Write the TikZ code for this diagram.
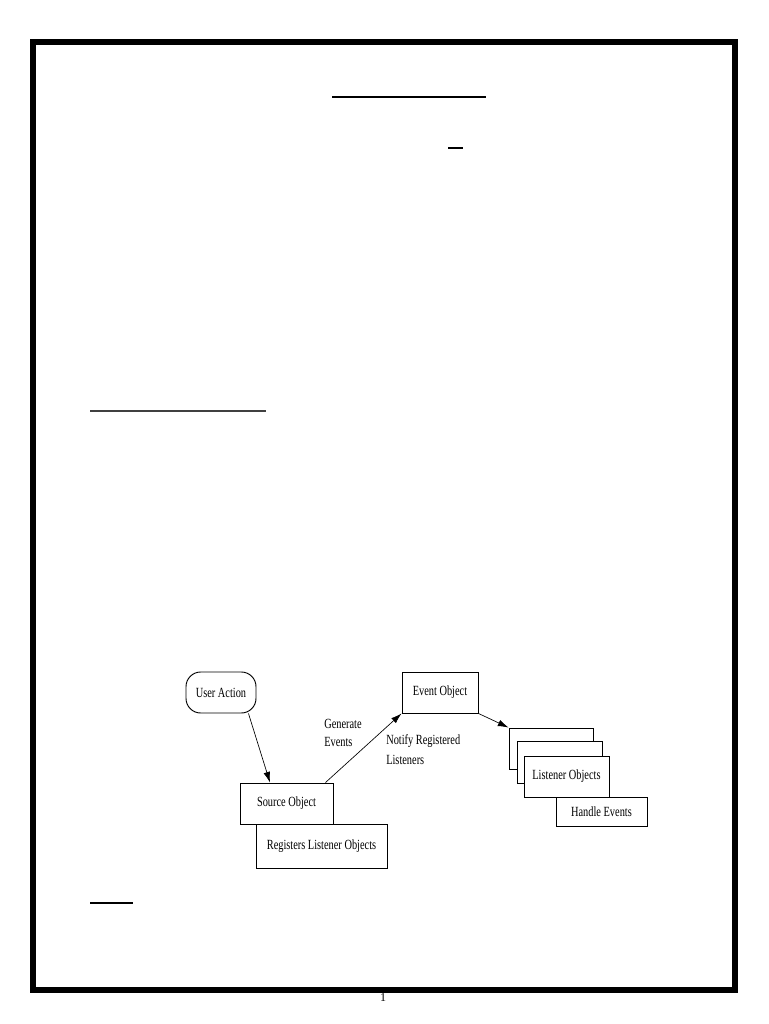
\documentclass[tikz,border=0pt]{standalone}
\usepackage{fontspec}
\setmainfont{Liberation Serif}
\newfontfamily\condfont[FakeStretch=0.74]{Liberation Serif}
\usetikzlibrary{arrows.meta}
\begin{document}
\begin{tikzpicture}[x=0.75pt,y=-0.75pt,
  box/.style={draw=black,line width=0.7pt,fill=white,inner sep=0pt,font=\condfont\fontsize{10.5}{12}\selectfont},
  lbl/.style={inner sep=0pt,anchor=west,font=\condfont\fontsize{10.5}{12}\selectfont},
  conn/.style={line width=0.5pt,-{Latex[length=8pt,width=5pt]}}]
\useasboundingbox[fill=white] (0,0) rectangle (768,1024);
% page frame
\draw[line width=4.5pt] (33,42) rectangle (734.5,990);
\node[font=\fontsize{9}{10}\selectfont,inner sep=0pt] (pnum) at (383,998) {1};
% underlines
\draw[line width=1.5pt] (332,97) -- (486,97);
\draw[line width=1pt] (448,148) -- (463,148);
\draw[line width=1.2pt,black!75] (90,411) -- (266,411);
\draw[line width=1.5pt] (90,903) -- (133,903);
% diagram
\node[box,rounded corners=11pt,minimum width=70*0.75pt,minimum height=41*0.75pt] (ua) at (221,692.5) {User Action};
\node[box,minimum width=93*0.75pt,minimum height=41*0.75pt] (so) at (286.5,803.5) {Source Object};
\node[box,minimum width=131*0.75pt,minimum height=44*0.75pt] (rl) at (321.5,846) {Registers Listener Objects};
\node[box,minimum width=76*0.75pt,minimum height=41*0.75pt] (eo) at (440,692.5) {Event Object};
\node[box,minimum width=84*0.75pt,minimum height=41*0.75pt] (lb1) at (551,748.5) {};
\node[box,minimum width=85*0.75pt,minimum height=42*0.75pt] (lb2) at (559.5,762) {};
\node[box,minimum width=85*0.75pt,minimum height=41*0.75pt] (lo) at (566.5,776.5) {Listener Objects};
\node[box,minimum width=91*0.75pt,minimum height=29*0.75pt] (he) at (601.5,811.5) {Handle Events};
\node[lbl,align=left,font=\condfont\fontsize{10.5}{14}\selectfont] (ge) at (324,733) {Generate\\Events};
\node[lbl,align=left,font=\condfont\fontsize{10.5}{15}\selectfont] (nr) at (386,750) {Notify Registered\\Listeners};
\draw[conn] (ua.south east) ++(-8,0) coordinate (ua1) -- (so.north west -| 270,0);
\draw[conn] (so.north east) ++(-8,0) -- (eo.south west);
\draw[conn] (eo.south east) -- (lb1.north west);
\end{tikzpicture}
\end{document}
